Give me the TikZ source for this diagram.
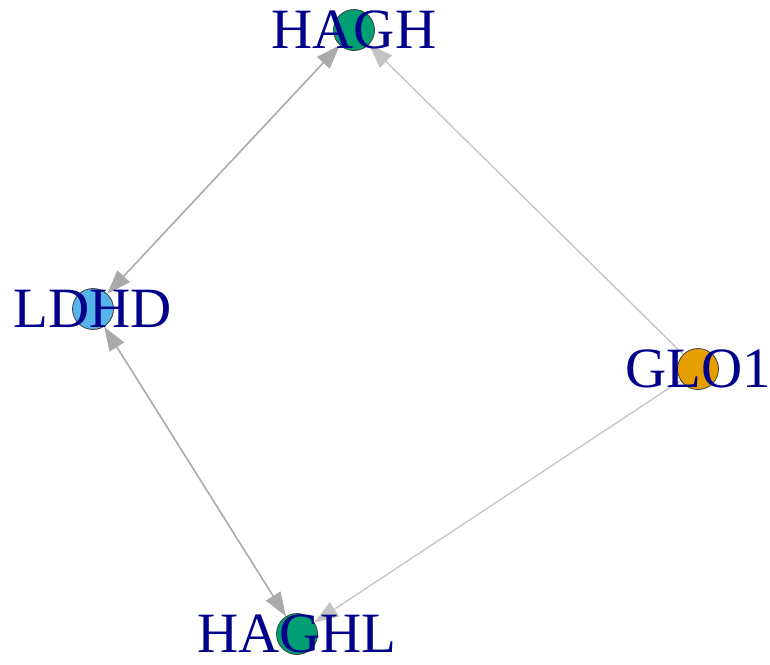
\documentclass[tikz,border=0pt]{standalone}
\usepackage{fontspec}
\setmainfont{Liberation Serif}
\usepackage{tikz}
\usetikzlibrary{arrows.meta,backgrounds}
\usepackage{xcolor}
\definecolor{labelblue}{RGB}{0,0,139}
\definecolor{vgreen}{RGB}{0,158,115}
\definecolor{vsky}{RGB}{86,180,233}
\definecolor{vorange}{RGB}{230,159,0}
\definecolor{edgegray}{RGB}{170,170,170}
\definecolor{edgelight}{RGB}{195,195,195}

\begin{document}
\begin{tikzpicture}[
      x=1pt, y=-1pt,
      vertex/.style={circle, draw=black!75, line width=0.8pt, minimum size=41pt,
                     inner sep=0pt},
      vlabel/.style={text=labelblue, inner sep=0pt,
                     font=\fontsize{57}{62}\selectfont},
      strong/.style={draw=edgegray, line width=1.6pt},
      weak/.style={draw=edgelight, line width=1.3pt},
      onehead/.style={-{Triangle[length=24pt,width=17pt]}},
      twohead/.style={{Triangle[length=24pt,width=17pt]}-{Triangle[length=24pt,width=17pt]}},
    ]
    \useasboundingbox (0,0) rectangle (770,664);

    % vertices
    \node[vertex, fill=vgreen, label={[vlabel]center:HAGH}] (HAGH) at (354,30) {};
    \node[vertex, fill=vsky, label={[vlabel]center:LDHD}] (LDHD) at (93,309) {};
    \node[vertex, fill=vorange, label={[vlabel]center:GLO1}] (GLO1) at (698,369) {};
    \node[vertex, fill=vgreen, label={[vlabel]center:HAGHL}] (HAGHL) at (297,634) {};

    % edges
    \begin{scope}[on background layer]
      \draw[twohead, strong] (HAGH) -- (LDHD);
      \draw[twohead, strong] (LDHD) -- (HAGHL);
      \draw[onehead, weak] (GLO1) -- (HAGH);
      \draw[onehead, weak] (GLO1) -- (HAGHL);
    \end{scope}
  \end{tikzpicture}
\end{document}
